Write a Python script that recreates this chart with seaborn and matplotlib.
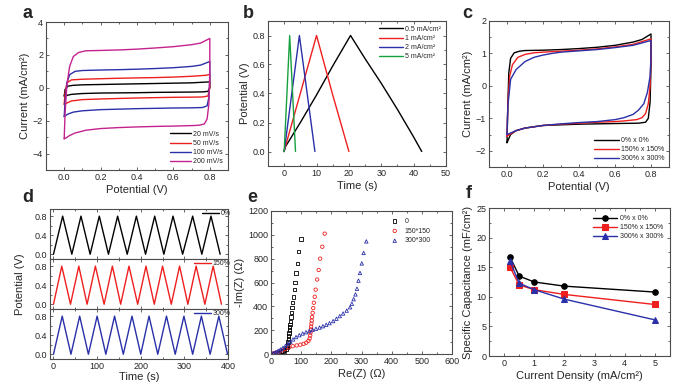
import matplotlib
matplotlib.use('Agg')
import matplotlib.pyplot as plt
import seaborn as sns
from matplotlib.ticker import AutoMinorLocator, MultipleLocator

# ---- (a) CV at different scan rates ----
a_labels = ['20 mV/s', '50 mV/s', '100 mV/s', '200 mV/s']
a_v20 = [0.0, 0.005, 0.02, 0.05, 0.1, 0.2, 0.3, 0.4, 0.5, 0.6, 0.7, 0.8, 0.8, 0.79, 0.76, 0.7, 0.6, 0.5, 0.4, 0.3, 0.2, 0.1, 0.04, 0.0]
a_i20 = [-0.5, -0.1, 0.1, 0.15, 0.18, 0.2, 0.22, 0.24, 0.26, 0.28, 0.3, 0.36, 0.0, -0.22, -0.25, -0.26, -0.27, -0.28, -0.3, -0.31, -0.32, -0.35, -0.4, -0.5]
a_v50 = [0.0, 0.005, 0.015, 0.04, 0.1, 0.2, 0.3, 0.4, 0.5, 0.6, 0.7, 0.78, 0.8, 0.8, 0.79, 0.76, 0.7, 0.6, 0.5, 0.4, 0.3, 0.2, 0.1, 0.04, 0.0]
a_i50 = [-1.0, -0.3, 0.3, 0.48, 0.52, 0.55, 0.58, 0.6, 0.62, 0.65, 0.7, 0.76, 0.82, 0.0, -0.5, -0.56, -0.57, -0.58, -0.6, -0.62, -0.65, -0.68, -0.72, -0.8, -1.0]
a_v100 = [0.0, 0.005, 0.015, 0.03, 0.06, 0.1, 0.2, 0.3, 0.4, 0.5, 0.6, 0.7, 0.75, 0.8, 0.8, 0.795, 0.785, 0.76, 0.7, 0.6, 0.5, 0.4, 0.3, 0.2, 0.1, 0.05, 0.02, 0.0]
a_i100 = [-1.75, -0.8, 0.3, 0.8, 1.0, 1.05, 1.08, 1.1, 1.13, 1.17, 1.22, 1.3, 1.38, 1.6, 0.5, -0.6, -1.1, -1.2, -1.22, -1.23, -1.25, -1.27, -1.3, -1.33, -1.4, -1.48, -1.6, -1.75]
a_v200 = [0.0, 0.005, 0.015, 0.03, 0.05, 0.08, 0.12, 0.2, 0.3, 0.4, 0.5, 0.6, 0.7, 0.75, 0.8, 0.8, 0.795, 0.785, 0.77, 0.74, 0.7, 0.6, 0.5, 0.4, 0.3, 0.2, 0.12, 0.06, 0.03, 0.01, 0.0]
a_i200 = [-3.1, -1.5, 0.2, 1.3, 1.9, 2.15, 2.25, 2.27, 2.3, 2.35, 2.42, 2.5, 2.62, 2.72, 3.0, 1.0, -1.0, -1.9, -2.2, -2.28, -2.3, -2.33, -2.35, -2.38, -2.42, -2.48, -2.58, -2.75, -2.9, -3.05, -3.1]

# ---- (b) galvanostatic charge/discharge ----
b_labels = ['0.5 mA/cm\u00b2', '1 mA/cm\u00b2', '2 mA/cm\u00b2', '5 mA/cm\u00b2']
b_t05 = [0, 0.3, 5, 10, 15, 20.5, 25, 30, 35, 40, 42.5]
b_v05 = [0, 0.03, 0.2, 0.39, 0.59, 0.8, 0.64, 0.47, 0.29, 0.1, 0.0]
b_t1 = [0, 0.2, 10, 15, 20]
b_v1 = [0, 0.02, 0.8, 0.39, 0]
b_t2 = [0, 4.7, 9.5]
b_v2 = [0, 0.8, 0]
b_t5 = [0, 1.7, 3.5]
b_v5 = [0, 0.8, 0]

# ---- (c) CV under different strain ----
c_labels = ['0% x 0%', '150% x 150%', '300% x 300%']
c_v0 = [0.0, 0.005, 0.01, 0.02, 0.04, 0.07, 0.1, 0.2, 0.3, 0.4, 0.5, 0.6, 0.7, 0.75, 0.8, 0.8, 0.795, 0.785, 0.77, 0.73, 0.6, 0.5, 0.4, 0.3, 0.2, 0.1, 0.05, 0.02, 0.0]
c_i0 = [-1.75, -0.5, 0.4, 0.85, 1.02, 1.07, 1.09, 1.1, 1.12, 1.15, 1.19, 1.25, 1.35, 1.43, 1.6, 0.6, -0.5, -1.0, -1.12, -1.15, -1.16, -1.17, -1.18, -1.2, -1.22, -1.3, -1.38, -1.5, -1.75]
c_v150 = [0.0, 0.005, 0.015, 0.03, 0.06, 0.1, 0.15, 0.2, 0.3, 0.4, 0.5, 0.6, 0.7, 0.8, 0.8, 0.795, 0.785, 0.77, 0.75, 0.72, 0.65, 0.6, 0.5, 0.4, 0.3, 0.2, 0.1, 0.05, 0.0]
c_i150 = [-1.55, -0.5, 0.3, 0.65, 0.88, 0.97, 1.02, 1.04, 1.07, 1.1, 1.14, 1.2, 1.28, 1.45, 0.9, 0.0, -0.55, -0.85, -0.98, -1.04, -1.08, -1.1, -1.12, -1.15, -1.18, -1.22, -1.3, -1.38, -1.55]
c_v300 = [0.0, 0.005, 0.02, 0.05, 0.1, 0.15, 0.2, 0.25, 0.3, 0.4, 0.5, 0.6, 0.7, 0.8, 0.8, 0.795, 0.78, 0.76, 0.73, 0.7, 0.65, 0.6, 0.5, 0.4, 0.3, 0.2, 0.1, 0.05, 0.0]
c_i300 = [-1.5, -0.6, 0.2, 0.5, 0.75, 0.88, 0.95, 1.0, 1.04, 1.08, 1.12, 1.18, 1.25, 1.4, 0.9, 0.3, -0.2, -0.55, -0.75, -0.88, -0.98, -1.04, -1.1, -1.13, -1.17, -1.22, -1.3, -1.38, -1.5]

# ---- (d) cycling under strain ----
d_labels = ['0%', '150%', '300%']
d_t0 = [0, 21, 42, 63, 84, 105, 126, 147, 169, 190, 211, 232, 253, 274, 296, 319, 340, 361, 382]
d_v0 = [0, 0.8, 0, 0.8, 0, 0.8, 0, 0.8, 0, 0.8, 0, 0.8, 0, 0.8, 0, 0.8, 0, 0.8, 0]
d_t150 = [0, 19, 39, 58, 77, 96, 116, 135, 154, 173, 193, 212, 231, 250, 270, 289, 308, 327, 347, 366, 385]
d_v150 = [0, 0.8, 0, 0.8, 0, 0.8, 0, 0.8, 0, 0.8, 0, 0.8, 0, 0.8, 0, 0.8, 0, 0.8, 0, 0.8, 0]
d_t300 = [0, 20, 40, 60, 80, 100, 120, 140, 160, 180, 200, 219, 239, 259, 279, 299, 319, 339, 359, 379, 399]
d_v300 = [0, 0.8, 0, 0.8, 0, 0.8, 0, 0.8, 0, 0.8, 0, 0.8, 0, 0.8, 0, 0.8, 0, 0.8, 0, 0.8, 0]

# ---- (e) Nyquist plots ----
e_labels = ['0', '150*150', '300*300']
e_re0 = [3, 8, 14, 20, 27, 34, 40, 45, 50, 53, 55, 57, 58, 59, 60, 61, 62, 63, 64, 66, 68, 70, 72, 74, 77, 80, 83, 87, 92, 99]
e_im0 = [2, 4, 7, 10, 14, 19, 25, 32, 42, 55, 75, 100, 125, 150, 175, 200, 225, 250, 275, 310, 350, 390, 430, 480, 540, 600, 680, 760, 860, 965]
e_re150 = [4, 10, 18, 27, 37, 48, 60, 72, 85, 97, 108, 117, 124, 128, 130, 131, 132, 133, 134, 135, 136, 138, 140, 142, 145, 148, 153, 158, 163, 170, 178]
e_im150 = [2, 6, 12, 20, 30, 42, 55, 65, 72, 78, 85, 95, 110, 130, 155, 180, 205, 230, 255, 280, 310, 345, 385, 430, 480, 540, 625, 705, 800, 900, 1010]
e_re300 = [3, 9, 15, 21, 27, 33, 40, 48, 56, 64, 73, 83, 94, 105, 116, 127, 138, 149, 161, 172, 183, 194, 206, 217, 228, 239, 251, 262, 268, 274, 280, 285, 290, 295, 301, 307, 316]
e_im300 = [4, 9, 14, 22, 30, 40, 52, 68, 85, 103, 122, 142, 158, 172, 183, 193, 202, 212, 222, 233, 245, 259, 276, 296, 318, 340, 364, 392, 422, 460, 500, 548, 615, 680, 760, 848, 945]

# ---- (f) specific capacitance ----
f_density = [0.2, 0.5, 1, 2, 5]
f_cap0 = [16.7, 13.5, 12.5, 11.8, 10.8]
f_cap150 = [15.0, 12.0, 11.2, 10.4, 8.7]
f_cap300 = [16.0, 12.3, 11.2, 9.6, 6.1]

BLACK, RED, BLUE, MAG, GREEN = '#000000', '#ee1f1f', '#2a30a8', '#c4238f', '#17a040'

sns.set_style('ticks')
plt.rcParams['font.family'] = ['Liberation Sans', 'DejaVu Sans']
plt.rcParams['axes.edgecolor'] = '0.3'
plt.rcParams['axes.linewidth'] = 0.8

TICK = 6.5
LAB = 8
LEG = 5


def style(ax, minor=True):
    ax.tick_params(direction='in', top=True, right=True, which='both',
                   labelsize=TICK, pad=2, length=2.5, width=0.6, color='0.3')
    ax.tick_params(which='minor', length=1.5)
    if minor:
        ax.xaxis.set_minor_locator(AutoMinorLocator(2))
        ax.yaxis.set_minor_locator(AutoMinorLocator(2))


def line(ax, x, y, c, label=None, lw=1.0):
    sns.lineplot(x=x, y=y, sort=False, estimator=None, color=c, lw=lw,
                 label=label, ax=ax)


fig = plt.figure(figsize=(6.8, 3.89), dpi=100)
W, H = 680, 389


def add_ax(l, t, r, b):
    return fig.add_axes([l / W, 1 - b / H, (r - l) / W, (b - t) / H])


# (a)
ax = add_ax(46, 22, 228, 170)
for v, i, c, lab in zip([a_v20, a_v50, a_v100, a_v200], [a_i20, a_i50, a_i100, a_i200],
                        [BLACK, RED, BLUE, MAG], a_labels):
    line(ax, v, i, c, lab)
ax.set_xlim(-0.1, 0.9)
ax.set_ylim(-5, 4)
ax.xaxis.set_major_locator(MultipleLocator(0.2))
ax.yaxis.set_major_locator(MultipleLocator(2))
ax.set_xlabel('Potential (V)', fontsize=LAB, labelpad=2)
ax.set_ylabel('Current (mA/cm\u00b2)', fontsize=LAB, labelpad=2)
style(ax)
ax.legend(loc='lower right', frameon=False, fontsize=LEG, handlelength=3,
          labelspacing=0.3, borderaxespad=0.3, handletextpad=0.3)

# (b)
ax = add_ax(268, 21, 446, 166)
for t, v, c, lab in zip([b_t05, b_t1, b_t2, b_t5], [b_v05, b_v1, b_v2, b_v5],
                        [BLACK, RED, BLUE, GREEN], b_labels):
    line(ax, t, v, c, lab)
ax.set_xlim(-5, 50)
ax.set_ylim(-0.1, 0.9)
ax.xaxis.set_major_locator(MultipleLocator(10))
ax.yaxis.set_major_locator(MultipleLocator(0.2))
ax.set_xlabel('Time (s)', fontsize=LAB, labelpad=2)
ax.set_ylabel('Potential (V)', fontsize=LAB, labelpad=2)
style(ax)
ax.legend(loc='upper right', frameon=False, fontsize=LEG, handlelength=3.5,
          labelspacing=0.3, borderaxespad=0.3, handletextpad=0.3)

# (c)
ax = add_ax(489, 21, 669, 167)
for v, i, c, lab in zip([c_v0, c_v150, c_v300], [c_i0, c_i150, c_i300],
                        [BLACK, RED, BLUE], c_labels):
    line(ax, v, i, c, lab)
ax.set_xlim(-0.1, 0.9)
ax.set_ylim(-2.5, 2)
ax.xaxis.set_major_locator(MultipleLocator(0.2))
ax.yaxis.set_major_locator(MultipleLocator(1))
ax.set_xlabel('Potential (V)', fontsize=LAB, labelpad=2)
ax.set_ylabel('Current (mA/cm\u00b2)', fontsize=LAB, labelpad=2)
style(ax)
ax.legend(loc='lower right', frameon=False, fontsize=LEG, handlelength=3.5,
          labelspacing=0.3, borderaxespad=0.3, handletextpad=0.3)

# (d)
d_sets = [(d_t0, d_v0, BLACK), (d_t150, d_v150, RED), (d_t300, d_v300, BLUE)]
for k, ((t, v, c), lab) in enumerate(zip(d_sets, d_labels)):
    top = 209 + 50 * k
    ax = add_ax(50, top, 228, top + 50)
    line(ax, t, v, c, lab)
    ax.set_xlim(-8, 400)
    ax.set_ylim(-0.1, 0.95)
    ax.xaxis.set_major_locator(MultipleLocator(100))
    ax.yaxis.set_major_locator(MultipleLocator(0.4))
    ax.set_ylabel('')
    style(ax)
    if k < 2:
        ax.set_xticklabels([])
    else:
        ax.set_xlabel('Time (s)', fontsize=LAB, labelpad=1)
    ax.legend(loc='upper right', frameon=False, fontsize=LEG, handlelength=2.5,
              borderaxespad=0.0, handletextpad=0.2, bbox_to_anchor=(1.03, 1.03))
fig.text(20 / W, 1 - 284 / H, 'Potential (V)', rotation=90, fontsize=LAB,
         ha='center', va='center')

# (e)
ax = add_ax(271, 211, 452, 354)
for x, y, c, m, lab in zip([e_re0, e_re150, e_re300], [e_im0, e_im150, e_im300],
                           [BLACK, RED, BLUE], ['s', 'o', '^'], e_labels):
    sns.scatterplot(x=x, y=y, marker=m, s=6, color=c, facecolor='none',
                    edgecolor=c, linewidth=0.6, label=lab, ax=ax)
ax.set_xlim(0, 600)
ax.set_ylim(0, 1200)
ax.xaxis.set_major_locator(MultipleLocator(100))
ax.yaxis.set_major_locator(MultipleLocator(200))
ax.set_xlabel('Re(Z) (\u03a9)', fontsize=LAB, labelpad=2)
ax.set_ylabel('-Im(Z) (\u03a9)', fontsize=LAB, labelpad=2)
style(ax)
ax.legend(loc='upper right', frameon=False, fontsize=LEG, labelspacing=0.4,
          borderaxespad=0.6, handletextpad=0.4, bbox_to_anchor=(0.92, 1.0))

# (f)
ax = add_ax(489, 208, 670, 356)
for y, c, m, lab in zip([f_cap0, f_cap150, f_cap300], [BLACK, RED, BLUE],
                        ['o', 's', '^'], c_labels):
    sns.lineplot(x=f_density, y=y, color=c, marker=m, markersize=4,
                 markeredgecolor=c, lw=1.0, label=lab, ax=ax)
ax.set_xlim(-0.5, 5.5)
ax.set_ylim(0, 25)
ax.xaxis.set_major_locator(MultipleLocator(1))
ax.yaxis.set_major_locator(MultipleLocator(5))
ax.set_xlabel('Current Density (mA/cm\u00b2)', fontsize=LAB, labelpad=2)
ax.set_ylabel('Specific Capacitance (mF/cm\u00b2)', fontsize=LAB, labelpad=2)
style(ax)
ax.legend(loc='upper right', frameon=False, fontsize=LEG, handlelength=3.5,
          labelspacing=0.3, borderaxespad=0.6, handletextpad=0.3)

# panel letters
for (x, y), s in zip([(22, 18), (243, 18), (462, 18), (22, 202), (247, 202), (466, 198)],
                     ['a', 'b', 'c', 'd', 'e', 'f']):
    fig.text(x / W, 1 - y / H, s, fontsize=13, fontweight='bold', ha='left', va='baseline')

fig.savefig('out.png', dpi=100)
